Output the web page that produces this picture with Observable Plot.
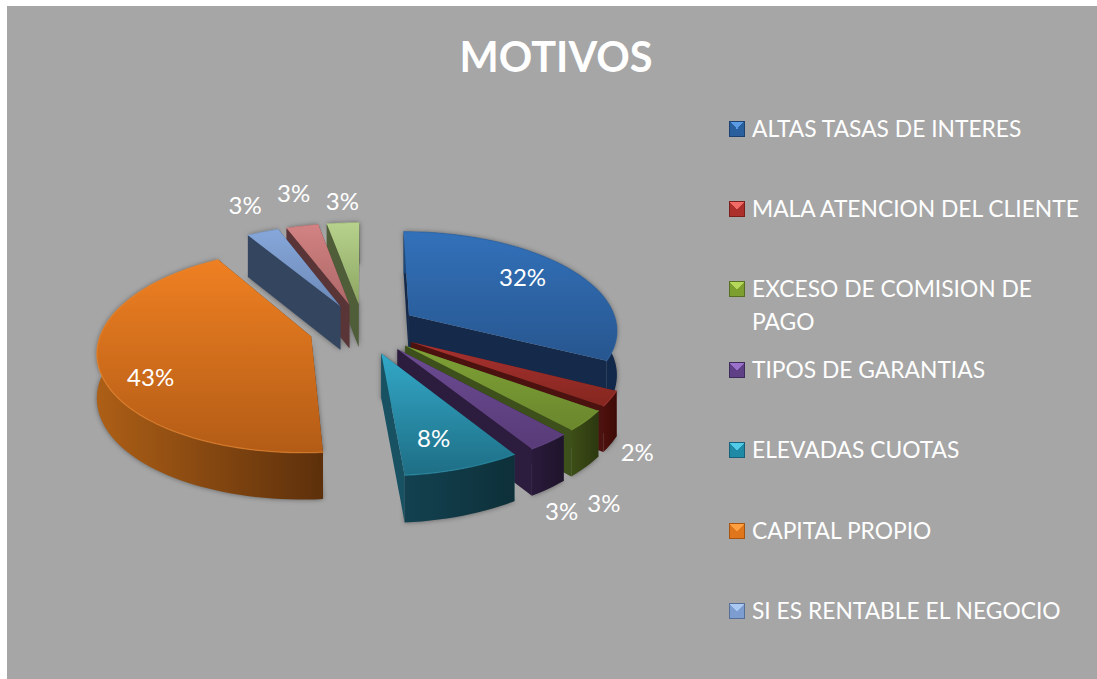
<!DOCTYPE html>
<html>
<head>
<meta charset="utf-8">
<script src="https://cdn.jsdelivr.net/npm/d3@7"></script>
<script src="https://cdn.jsdelivr.net/npm/@observablehq/plot@0.6"></script>
<style>
  html, body { margin: 0; padding: 0; background: #fff; width: 1097px; height: 679px; overflow: hidden; }
  #panel { position: absolute; left: 7px; top: 6px; right: 0; bottom: 0; background: #a6a6a6; }
  #chart { position: absolute; left: 0; top: 0; }
  #chart svg { display: block; background: transparent; }
  #chart svg text { font-family: Lato, sans-serif; }
  #title { position: absolute; left: 6px; width: 1100px; top: 27px; text-align: center; color: #fff;
           font: 700 41.5px/58px Lato, sans-serif; }
  #legend { position: absolute; left: 0; top: 0; color: #fff; font: 400 22.8px/33px Lato, sans-serif; }
  .item { position: absolute; left: 752px; white-space: pre; }
  .swatch { position: absolute; left: -23px; top: 9px; width: 16px; height: 16px; }
</style>
</head>
<body>
<div id="panel"></div>
<div id="chart"></div>
<div id="title"></div>
<div id="legend"></div>
<script>
const chartTitle = "MOTIVOS";
const categories = [
  "ALTAS TASAS DE INTERES", "MALA ATENCION DEL CLIENTE", "EXCESO DE COMISION DE\nPAGO",
  "TIPOS DE GARANTIAS", "ELEVADAS CUOTAS", "CAPITAL PROPIO", "SI ES RENTABLE EL NEGOCIO"
];
const values = [32.45, 2.4, 3.3, 2.9, 7.65, 42.6, 2.9, 2.9, 2.9];

// colours per slice: [top light, top dark, arc wall light, arc wall dark, cut face, rim]
const palette = [
  ["#3271ba", "#27568f", "#1f4a7c", "#11284a", "#152a4a", "#2f68a8"],
  ["#a83230", "#84261f", "#4e100c", "#3c0a07", "#4c1210", "#a83a38"],
  ["#7fa136", "#6a872d", "#3d4e16", "#2c3810", "#3d4f1a", "#80a03a"],
  ["#6c4b92", "#583b78", "#2a1a3b", "#1e142b", "#2c1c3d", "#6c4e90"],
  ["#33a8c8", "#1e6e85", "#134150", "#0d3039", "#175162", "#2c94b0"],
  ["#ef8022", "#b35c16", "#ad5f16", "#5d300b", "#5d300b", "#f08a30"],
  ["#86a7da", "#6d8ab8", "#344560", "#2c3b52", "#344560", "#86a7da"],
  ["#d28282", "#ae6868", "#5a3538", "#4a2c2e", "#5a3538", "#d28282"],
  ["#b7d28c", "#8ca661", "#4f5e38", "#43502f", "#4f5e38", "#b7d28c"]
];
const swatches = [
  ["#5b9be6", "#2a5f9e", "#1d4272"], ["#f06a66", "#ad2f2c", "#7a1f1c"], ["#b6d85a", "#7d9f30", "#566f20"],
  ["#9a72cc", "#5f3f85", "#3f2a5c"], ["#52cbe8", "#1f8aa6", "#15607a"], ["#ffa040", "#e0761c", "#a65410"],
  ["#a9c8f2", "#7d9ccf", "#566f99"]
];
// label placement per slice, polar in pie units: radius and angle nudge from the slice's bisector
const labelPlace = [[.983,-2.2],[1.559,13.06],[1.714,15.9],[1.676,10.6],[1.022,1.9],[1.065,-8.5],[1.64,1.6],[1.723,1.9],[1.556,.7]];

// 3D view of the pie
const view = {cx: 363, cy: 328, rx: 209, ry: 98.2, persp: .135, depth: 44, depthPersp: .4, explode: .26};
const rad = d => d * Math.PI / 180;
function project(X, V, low) {
  const s = 1 / (1 + view.persp * V);
  return {x: view.cx + view.rx * X * s, y: view.cy - view.ry * V * s + (low ? view.depth * Math.pow(s, view.depthPersp) : 0), V};
}

const total = d3.sum(values);
let acc = 0;
const slices = values.map((v, i) => {
  const a0 = acc / total * 360; acc += v; const a1 = acc / total * 360;
  const mid = (a0 + a1) / 2;
  const ox = Math.sin(rad(mid)) * view.explode, ov = Math.cos(rad(mid)) * view.explode;
  const n = Math.max(2, Math.ceil((a1 - a0) / 2));
  const rim = d3.range(n + 1).map(k => {
    const a = a0 + (a1 - a0) * k / n;
    return [ox + Math.sin(rad(a)), ov + Math.cos(rad(a))];
  });
  return {i, v, a0, a1, mid, ox, ov, rim, colors: palette[i]};
});

const topFace = s => [[s.ox, s.ov], ...s.rim].map(([X, V]) => project(X, V, false));
function wall(a, b) { // a strip between two lists of ground points, top edge then bottom edge
  return [...a.map(([X, V]) => project(X, V, false)), ...[...b].reverse().map(([X, V]) => project(X, V, true))];
}
const polygon = (pts, fill, extra = {}) =>
  Plot.line(pts, {x: "x", y: "y", fill, stroke: "none", curve: "linear-closed", ...extra});

const order = [...slices].sort((p, q) => q.ov - p.ov);
const marks = [];

// soft shadow under every wedge
for (const s of order) {
  const ring = [[s.ox, s.ov], ...s.rim];
  marks.push(polygon(wall(ring, ring), "#222", {imageFilter: "blur(2.5px)", fillOpacity: .55}));
}
for (const s of order) {
  const apex = [s.ox, s.ov];
  const walls = [
    {pts: wall([apex, s.rim[0]], [apex, s.rim[0]]), fill: s.colors[4], V: (s.ov + s.rim[0][1]) / 2},
    {pts: wall([apex, s.rim[s.rim.length - 1]], [apex, s.rim[s.rim.length - 1]]), fill: s.colors[4], V: (s.ov + s.rim[s.rim.length - 1][1]) / 2},
    {pts: wall(s.rim, s.rim), fill: `url(#arc${s.i})`, V: d3.mean(s.rim, d => d[1])}
  ].sort((p, q) => q.V - p.V);
  for (const w of walls) marks.push(polygon(w.pts, w.fill));
  marks.push(polygon(topFace(s), `url(#top${s.i})`));
  marks.push(Plot.line(s.rim.map(([X, V]) => project(X, V, false)), {x: "x", y: "y", stroke: s.colors[5], strokeWidth: 1.3, strokeOpacity: .6}));
}

// data labels
const labels = slices.map(s => {
  const [r, da] = labelPlace[s.i];
  const a = rad(s.mid + da);
  const p = project(Math.sin(a) * r, Math.cos(a) * r, false);
  return {x: p.x, y: p.y, text: d3.format(".0f")(s.v) + "%"};
});
marks.push(Plot.text(labels, {x: "x", y: "y", text: "text", fill: "#fff", fontSize: 24, textAnchor: "middle"}));

const plot = Plot.plot({
  width: 1097, height: 679, margin: 0,
  x: {domain: [0, 1097], range: [0, 1097], axis: null},
  y: {domain: [0, 679], range: [0, 679], axis: null},
  marks
});
const grad = (id, x2, y2, c0, c1) =>
  `<linearGradient id="${id}" x1="0" y1="0" x2="${x2}" y2="${y2}"><stop offset="0" stop-color="${c0}"/><stop offset="1" stop-color="${c1}"/></linearGradient>`;
plot.insertAdjacentHTML("afterbegin", "<defs>" + slices.map(s =>
  grad("top" + s.i, 0, 1, s.colors[0], s.colors[1]) + grad("arc" + s.i, 1, 0, s.colors[2], s.colors[3])).join("") + "</defs>");
document.getElementById("chart").append(plot);

document.getElementById("title").textContent = chartTitle;
const legendTops = d3.range(categories.length).map(i => 111.5 + i * 80.4);
const legendBox = document.getElementById("legend");
categories.forEach((c, i) => {
  const el = document.createElement("div");
  el.className = "item";
  el.style.top = legendTops[i] + "px";
  el.textContent = c;
  const sw = document.createElement("div");
  sw.className = "swatch";
  const [l, m, d] = swatches[i];
  sw.style.background = `conic-gradient(from 315deg at 50% 50%, ${l} 0 25%, ${m} 25% 100%)`;
  sw.style.boxShadow = `inset 0 0 0 1px ${d}`;
  el.append(sw);
  legendBox.append(el);
});
</script>
</body>
</html>
